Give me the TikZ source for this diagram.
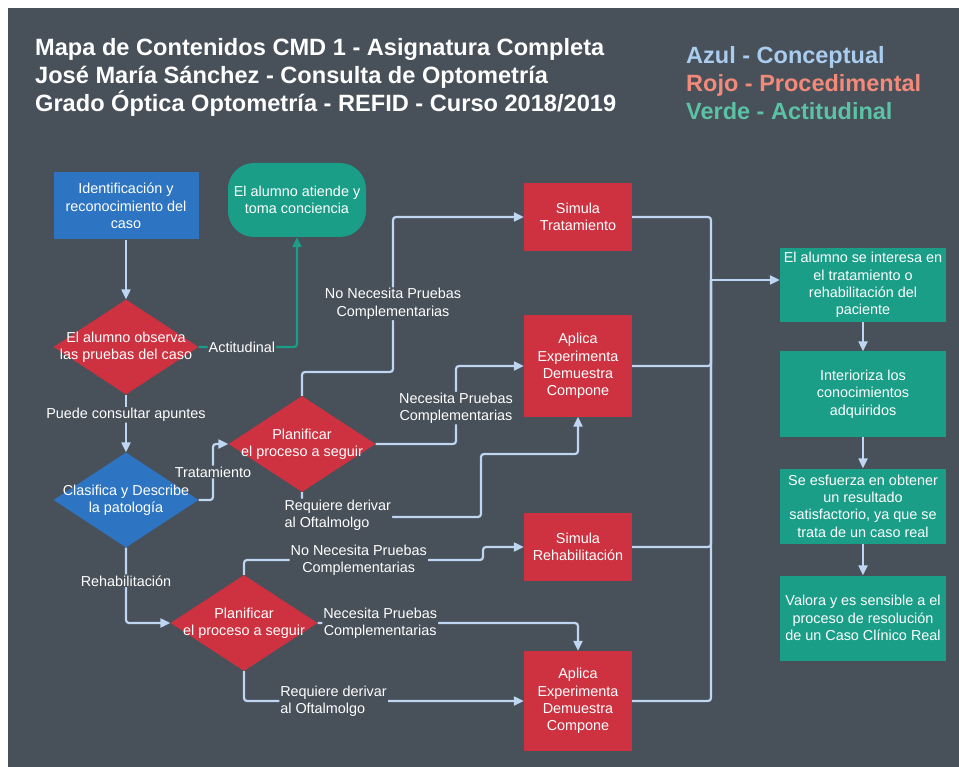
\documentclass[tikz,border=0pt]{standalone}
\usepackage{fontspec}
\setmainfont{Liberation Sans}
\usetikzlibrary{shapes.geometric,arrows.meta}

\definecolor{board}{RGB}{72,80,90}
\definecolor{lucidblue}{RGB}{45,116,194}
\definecolor{lucidred}{RGB}{206,50,64}
\definecolor{lucidgreen}{RGB}{26,158,135}
\definecolor{linkblue}{RGB}{190,214,242}
\definecolor{azul}{RGB}{170,204,238}
\definecolor{rojo}{RGB}{242,138,122}
\definecolor{verde}{RGB}{92,194,166}

\begin{document}
\begin{tikzpicture}[x=1pt,y=-1pt,
  every node/.append style={font=\fontsize{14.4}{17.3}\selectfont},
  box/.style={rectangle, inner sep=0pt, align=center, text=white},
  red box/.style={box, fill=lucidred, minimum width=108pt, minimum height=68pt},
  green box/.style={box, fill=lucidgreen, minimum width=166pt},
  decision/.style={diamond, inner sep=0pt, minimum width=147pt, minimum height=96pt},
  decision text/.style={text=white, align=center},
  wire/.style={draw=linkblue, line width=2.2pt, rounded corners=3pt},
  link/.style={wire, -{Triangle[length=10pt,width=9pt]}},
  link label/.style={fill=board, text=white, inner sep=1pt, align=center}]

  % Board

  \useasboundingbox (0,0) rectangle (959,767);
  \fill[board] (8,8) rectangle (959,767);

  \node[anchor=west, align=left, text=white, inner sep=0pt,
    font=\bfseries\fontsize{23.6}{28}\selectfont] (title) at (35,77)
    {Mapa de Contenidos CMD 1 - Asignatura Completa\\
     José María Sánchez - Consulta de Optometría\\
     Grado Óptica Optometría - REFID - Curso 2018/2019};
  \node[anchor=west, align=left, inner sep=0pt,
    font=\bfseries\fontsize{23.5}{28}\selectfont] (legend) at (686,83)
    {\textcolor{azul}{Azul - Conceptual}\\
     \textcolor{rojo}{Rojo - Procedimental}\\
     \textcolor{verde}{Verde - Actitudinal}};

  % Caso

  \node[box, fill=lucidblue, minimum width=145pt, minimum height=67pt] (ident) at (126,206)
    {Identificación y\\reconocimiento del\\caso};
  \node[decision, fill=lucidred, minimum width=145pt, minimum height=95pt,
    label={[decision text]center:{El alumno observa\\las pruebas del caso}}] (observa) at (126,347) {};
  \node[box, fill=lucidgreen, rounded corners=26pt, minimum width=138pt, minimum height=74pt] (atiende) at (297,200)
    {El alumno atiende y\\toma conciencia};
  \node[decision, fill=lucidblue, minimum width=145pt, minimum height=95pt,
    label={[decision text]center:{Clasifica y Describe\\la patología}}] (clasifica) at (126,500) {};

  % Tratamiento

  \node[decision, fill=lucidred,
    label={[decision text]center:{Planificar\\el proceso a seguir}}] (plantrat) at (302,444) {};
  \node[red box] (simtrat) at (578,217) {Simula\\Tratamiento};
  \node[red box, minimum height=101pt] (aplicatrat) at (578,366) {Aplica\\Experimenta\\Demuestra\\Compone};

  % Rehabilitacion

  \node[decision, fill=lucidred,
    label={[decision text]center:{Planificar\\el proceso a seguir}}] (planrehab) at (244,623) {};
  \node[red box] (simrehab) at (578,547) {Simula\\Rehabilitación};
  \node[red box, minimum height=100pt] (aplicarehab) at (578,701) {Aplica\\Experimenta\\Demuestra\\Compone};

  % Actitudes

  \node[green box, minimum height=74pt] (interesa) at (863,285)
    {El alumno se interesa en\\el tratamiento o\\rehabilitación del\\paciente};
  \node[green box, minimum height=85pt] (interioriza) at (863,394)
    {Interioriza los\\conocimientos\\adquiridos};
  \node[green box, minimum height=75pt] (esfuerza) at (863,506)
    {Se esfuerza en obtener\\un resultado\\satisfactorio, ya que se\\trata de un caso real};
  \node[green box, minimum height=85pt] (valora) at (863,618)
    {Valora y es sensible a el\\proceso de resolución\\de un Caso Clínico Real};

  % Connections

  \draw[link] (ident) -- (observa);
  \draw[link, draw=lucidgreen] (observa.east) -| node[link label, pos=0.22] {Actitudinal} (atiende.south);
  \draw[link] (observa) -- node[link label, pos=0.35] {Puede consultar apuntes} (clasifica);
  \draw[link] (clasifica.east) -- (213,500) -- node[link label] {Tratamiento} (213,444) -- (plantrat.west);
  \draw[link] (clasifica.south) |- node[link label, pos=0.22] {Rehabilitación} (planrehab.west);

  \draw[link] (plantrat.north) |- (393,372)
    -- node[link label, pos=0.44] {No Necesita Pruebas\\Complementarias} (393,217) -- (simtrat.west);
  \draw[link] (plantrat.east) -- (456,444)
    -- node[link label, pos=0.46] {Necesita Pruebas\\Complementarias} (456,366) -- (aplicatrat.west);
  \draw[link] (plantrat.south) |- node[link label, pos=0.6, yshift=2pt, align=left] {Requiere derivar\\al Oftalmolgo} (481,517)
    -- (481,454) -| (aplicatrat.south);

  \draw[link] (planrehab.north) |- node[link label, pos=0.74] {No Necesita Pruebas\\Complementarias} (483,560)
    |- (simrehab.west);
  \draw[link] (planrehab.east) -| node[link label, pos=0.12] {Necesita Pruebas\\Complementarias} (aplicarehab.north);
  \draw[link] (planrehab.south) |- node[link label, pos=0.66, align=left] {Requiere derivar\\al Oftalmolgo} (aplicarehab.west);

  \coordinate (bus) at (711,280);
  \draw[wire] (simtrat.east) -| (bus);
  \draw[wire] (aplicatrat.east) -| (bus);
  \draw[wire] (simrehab.east) -| (bus);
  \draw[wire] (aplicarehab.east) -| (bus);
  \draw[link] (bus) -- (bus -| interesa.west);

  \draw[link] (interesa) -- (interioriza);
  \draw[link] (interioriza) -- (esfuerza);
  \draw[link] (esfuerza) -- (valora);
\end{tikzpicture}
\end{document}
